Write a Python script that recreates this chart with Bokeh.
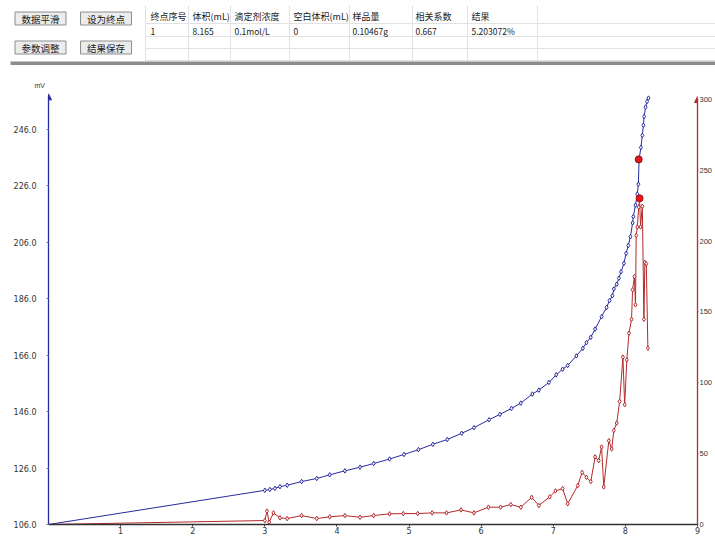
from bokeh.plotting import figure
from bokeh.models import (Range1d, LinearAxis, FixedTicker, PrintfTickFormatter,
                          Label, Arrow, NormalHead, Title)
from bokeh.layouts import column
from bokeh.embed import file_html
from bokeh.resources import INLINE
from bokeh.core.properties import value

# ---------------- data ----------------
buttons = ["数据平滑", "设为终点", "参数调整", "结果保存"]
headers = ["终点序号", "体积(mL)", "滴定剂浓度", "空白体积(mL)", "样品量", "相关系数", "结果"]
row1 = ["1", "8.165", "0.1mol/L", "0", "0.10467g", "0.667", "5.203072%"]

x_ticks = [1, 2, 3, 4, 5, 6, 7, 8, 9]
mv_ticks = [106, 126, 146, 166, 186, 206, 226, 246]
deriv_ticks = [0, 50, 100, 150, 200, 250, 300]

vol_blue = [0, 3.00, 3.07, 3.14, 3.21, 3.31, 3.51, 3.72, 3.90, 4.11, 4.32, 4.51, 4.73,
            4.93, 5.13, 5.33, 5.53, 5.73, 5.90, 6.11, 6.26, 6.42, 6.55, 6.71, 6.80, 6.94,
            7.04, 7.13, 7.20, 7.32, 7.41, 7.46, 7.52, 7.58, 7.67, 7.74, 7.78, 7.82, 7.84,
            7.88, 7.91, 7.94, 7.98, 8.01, 8.04, 8.07, 8.10, 8.11, 8.14, 8.165, 8.18, 8.19,
            8.215, 8.235, 8.25, 8.26, 8.28, 8.30, 8.32]
mv = [106.0, 118.1, 118.4, 118.8, 119.4, 119.9, 121.2, 122.3, 123.6, 125.0, 126.3, 127.6, 129.2,
      130.8, 132.5, 134.4, 136.1, 138.3, 140.3, 143.1, 145.0, 147.1, 149.0, 152.2, 153.6, 156.3,
      159.0, 161.0, 162.3, 165.7, 168.4, 170.4, 172.3, 175.2, 179.6, 182.9, 185.3, 187.0, 189.4,
      191.1, 193.2, 195.5, 198.5, 202.0, 204.8, 207.9, 212.8, 215.0, 219.1, 223.0, 226.5, 235.3,
      239.5, 243.8, 247.4, 250.5, 253.8, 255.8, 257.0]

vol_red = [0, 3.00, 3.03, 3.06, 3.12, 3.21, 3.31, 3.51, 3.72, 3.90, 4.11, 4.32, 4.51, 4.73,
           4.92, 5.12, 5.32, 5.52, 5.72, 5.90, 6.10, 6.27, 6.41, 6.55, 6.70, 6.80, 6.95, 7.03,
           7.13, 7.20, 7.34, 7.40, 7.46, 7.52, 7.58, 7.63, 7.67, 7.70, 7.77, 7.81, 7.84, 7.88,
           7.92, 7.966, 7.99, 8.02, 8.05, 8.085, 8.10, 8.125, 8.14, 8.15, 8.165, 8.185, 8.197,
           8.21, 8.235, 8.257, 8.27, 8.29, 8.312]
deriv = [0, 2.8, 9.4, 1.6, 8.2, 4.7, 4.2, 6.3, 4.2, 5.4, 6.3, 5.1, 6.3, 7.5,
         7.7, 7.7, 8.2, 8.2, 10.3, 8.2, 12.2, 12.2, 14.1, 12.2, 19.2, 13.4, 19.5, 23.7,
         25.3, 14.6, 27.5, 36.8, 33.3, 30.3, 47.7, 45.1, 54.7, 26.5, 59.1, 53.3, 66.4, 71.6,
         86.8, 118.1, 84.5, 116.2, 135.0, 144.8, 165.7, 175.0, 155.0, 204.0, 210.0, 224.0, 230.2,
         210.0, 224.6, 144.8, 185.0, 184.0, 124.4]

end_vol_mv = [8.185]
end_mv = [235.3]
end_vol_deriv = [8.197]
end_deriv = [230.2]

# ---------------- styles ----------------
BLUE = "#2a2aa0"
RED = "#b32a2a"
CJK = "Noto Sans CJK SC"

# ---------------- top panel (toolbar + table) ----------------
top = figure(width=715, height=65, x_range=Range1d(0, 715), y_range=Range1d(65, 0),
             output_backend="svg", toolbar_location=None, min_border=0,
             x_axis_type=None, y_axis_type=None)
top.frame_align = False
top.outline_line_color = None
top.grid.visible = False
top.background_fill_color = "white"

btn_cx = [40, 105.5, 40, 105.5]
btn_cy = [18, 18, 47, 47]
top.rect(x=btn_cx, y=btn_cy, width=51, height=13, fill_color="#ececec",
         line_color="#8e8e8e", line_width=1)
top.text(x=btn_cx, y=btn_cy, text=buttons, text_align="center", text_baseline="middle",
         text_font=value(CJK), text_font_size="9.5px", text_color="#1a1a1a")

col_lines = [145, 188, 230, 289, 349, 412, 467, 537]
row_lines = [23, 36, 48, 60]
top.segment(x0=col_lines, y0=[5] * len(col_lines), x1=col_lines, y1=[61] * len(col_lines),
            line_color="#e2e2e2", line_width=1)
top.segment(x0=[145] * len(row_lines), y0=row_lines, x1=[715] * len(row_lines), y1=row_lines,
            line_color="#e2e2e2", line_width=1)
col_x = [150, 192, 234, 293, 352, 415, 471]
top.text(x=col_x, y=[16] * len(col_x), text=headers, text_baseline="middle",
         text_font=value(CJK), text_font_size="9px", text_color="#1a1a1a")
top.text(x=col_x, y=[30.5] * len(col_x), text=row1, text_baseline="middle",
         text_font=value(CJK), text_font_size="8.5px", text_color="#1a1a1a")
top.quad(left=[10], right=[715], top=[61], bottom=[65], fill_color="#8c8c8c", line_color=None)

# ---------------- chart ----------------
p = figure(width=715, height=471, x_range=Range1d(0, 9), y_range=Range1d(106, 260.4),
           output_backend="svg", toolbar_location=None,
           min_border_left=48, min_border_right=17, min_border_top=23, min_border_bottom=11)
p.frame_align = False
p.outline_line_color = None
p.grid.visible = False
p.background_fill_color = "white"
p.extra_y_ranges = {"deriv": Range1d(0, 307.7)}

# unit label of the left axis, drawn as a small title above its top end
p.add_layout(Title(text="mV", align="left", offset=-14, standoff=0,
                   text_font_size="7px", text_font_style="normal",
                   text_color="#333333"), "above")

xa = p.xaxis[0]
xa.ticker = FixedTicker(ticks=x_ticks)
xa.bounds = (0, 9)
xa.axis_line_color = "#333333"
xa.axis_line_width = 1.6
xa.major_tick_in = 0
xa.major_tick_out = 2
xa.major_tick_line_color = "#333333"
xa.minor_tick_line_color = None
xa.major_label_standoff = 0
xa.major_label_text_font = "DejaVu Sans"
xa.major_label_text_font_size = "8px"
xa.major_label_text_color = "#333333"

ya = p.yaxis[0]
ya.ticker = FixedTicker(ticks=mv_ticks)
ya.formatter = PrintfTickFormatter(format="%.1f")
ya.bounds = (106, 258)
ya.axis_line_color = BLUE
ya.axis_line_width = 1.3
ya.major_tick_in = 0
ya.major_tick_out = 2
ya.major_tick_line_color = "#777799"
ya.minor_tick_line_color = None
ya.major_label_standoff = 10
ya.major_label_text_font = "DejaVu Sans"
ya.major_label_text_font_size = "8px"
ya.major_label_text_color = "#333333"

ra = LinearAxis(y_range_name="deriv", ticker=FixedTicker(ticks=deriv_ticks))
ra.bounds = (0, 300)
ra.axis_line_color = RED
ra.axis_line_width = 1.3
ra.major_tick_in = 0
ra.major_tick_out = 1
ra.major_tick_line_color = "#996666"
ra.minor_tick_line_color = None
ra.major_label_standoff = 1
ra.major_label_text_font = "Liberation Sans"
ra.major_label_text_font_size = "7.5px"
ra.major_label_text_color = "#333333"
p.add_layout(ra, "right")

# axis arrows
p.add_layout(Arrow(end=NormalHead(size=6, fill_color=BLUE, line_color=BLUE),
                   x_start=0, y_start=255, x_end=0, y_end=258.5,
                   line_color=BLUE, line_width=1))
p.add_layout(Arrow(end=NormalHead(size=6, fill_color=RED, line_color=RED),
                   x_start=9, y_start=294, x_end=9, y_end=302, y_range_name="deriv",
                   line_color=RED, line_width=1))

p.add_layout(Label(x=9.09, y=103.0, text="mL", text_font_size="7px",
                   text_color="#333333", text_baseline="middle", text_align="left"))

# curves
p.line(vol_blue, mv, line_color=BLUE, line_width=1)
p.scatter(vol_blue[1:], mv[1:], marker="diamond", size=4.5, fill_color="white",
          line_color=BLUE, line_width=1)
p.line(vol_red, deriv, y_range_name="deriv", line_color=RED, line_width=1)
p.scatter(vol_red[1:], deriv[1:], y_range_name="deriv", marker="diamond", size=4.5,
          fill_color="white", line_color=RED, line_width=1)

# end-point markers
p.scatter(end_vol_mv, end_mv, size=7, fill_color="#e81818", line_color="#7a1020")
p.scatter(end_vol_deriv, end_deriv, y_range_name="deriv", size=7,
          fill_color="#f01515", line_color="#b01010")

layout = column(top, p, spacing=0)
open("out.html", "w").write(file_html(layout, INLINE))
